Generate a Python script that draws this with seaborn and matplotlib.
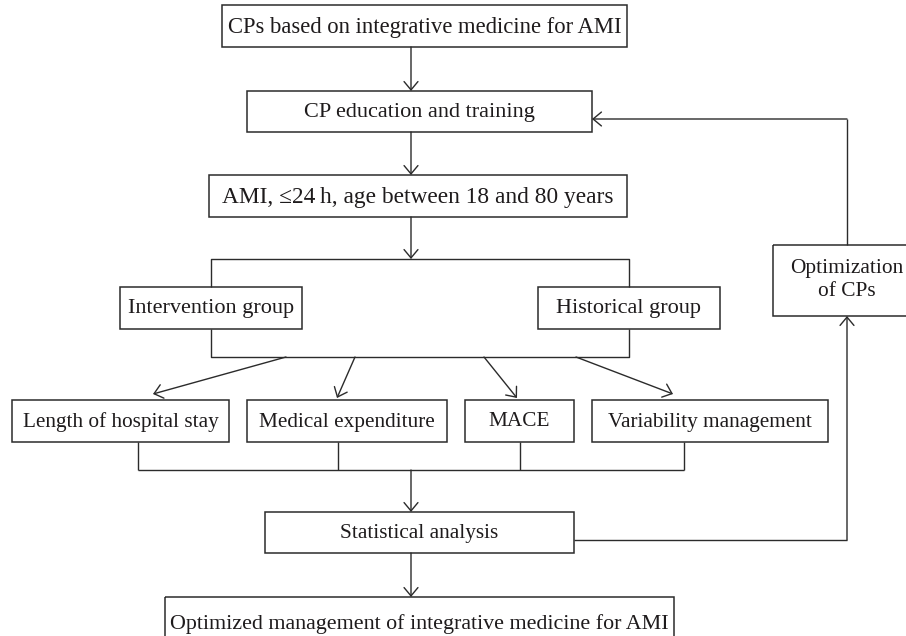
"""
Flow chart: clinical pathways (CPs) of integrative medicine for AMI.
"""

import matplotlib
matplotlib.use("Agg")
import matplotlib.pyplot as plt
import seaborn as sns

# ---- chart text -------------------------------------------------------------
main_steps = [
    "CPs based on integrative medicine for AMI",
    "CP education and training",
    "AMI, \u226424\u2009h, age between 18 and 80 years",
    "Statistical analysis",
    "Optimized management of integrative medicine for AMI",
]
groups = ["Intervention group", "Historical group"]
outcomes = ["Length of hospital stay", "Medical expenditure", "MACE", "Variability management"]
feedback = ["Optimization", "of CPs"]

# ---- layout (pixel coordinates, y downwards) --------------------------------
# box: (x0, x1, y0, y1)
step_boxes = [(222, 627, 5, 47), (247, 592, 91, 132), (209, 627, 175, 217),
              (265, 574, 512, 553), (165, 674, 597, 650)]
step_sizes = [16.3, 16, 16.8, 15.3, 15.8]
group_boxes = [(120, 302, 287, 329), (538, 720, 287, 329)]
outcome_boxes = [(12, 229, 400, 442), (247, 447, 400, 442),
                 (465, 574, 400, 442), (592, 828, 400, 442)]
feedback_box = (773, 922, 245, 316)

LINE = "#2b2b2b"
TEXT = "#1e1b1c"
FS = 16
W, H = 906, 636

sns.set_theme(style="white")
plt.rcParams["font.family"] = ["Liberation Serif", "DejaVu Serif"]

fig = plt.figure(figsize=(W / 100, H / 100), dpi=100)
ax = fig.add_axes([0, 0, 1, 1])
ax.set_xlim(0, W)
ax.set_ylim(H, 0)
ax.axis("off")


def label(x, y, s, size=FS):
    ax.text(x, y, s, fontsize=size, ha="center", va="center", color=TEXT)


def box(b, s, size=FS):
    x0, x1, y0, y1 = b
    ax.add_patch(plt.Rectangle((x0, y0), x1 - x0, y1 - y0, fill=False,
                               ec=LINE, lw=1.1))
    label((x0 + x1) / 2, (y0 + y1) / 2 + 1, s, size)


def line(*pts):
    xs, ys = zip(*pts)
    ax.plot(xs, ys, color=LINE, lw=1.0, solid_capstyle="butt")


def arrow(start, end):
    ax.annotate("", xy=end, xytext=start,
                arrowprops=dict(arrowstyle="->,head_length=0.6,head_width=0.5",
                                mutation_scale=10, color=LINE, lw=1.0,
                                shrinkA=0, shrinkB=0))


for b, s, size in zip(step_boxes, main_steps, step_sizes):
    box(b, s, size)
for b, s in zip(group_boxes, groups):
    box(b, s)
for b, s in zip(outcome_boxes, outcomes):
    box(b, s, 15.3)

# feedback box (runs off the right edge)
fx0, fx1, fy0, fy1 = feedback_box
ax.add_patch(plt.Rectangle((fx0, fy0), fx1 - fx0, fy1 - fy0, fill=False, ec=LINE, lw=1.1))
label(847, 268, feedback[0], 15.4)
label(847, 292, feedback[1], 15.4)

# main vertical flow
arrow((411, 47), (411, 91))
arrow((411, 132), (411, 175))
arrow((411, 217), (411, 259))

# group bracket
line((211, 287), (211, 259), (629, 259), (629, 287))
line((211, 329), (211, 357), (629, 357), (629, 329))

# fan out to outcomes
for start, end in [((286, 357), (153, 394)), ((355, 357), (337, 398)),
                   ((484, 357), (517, 398)), ((576, 357), (673, 394))]:
    arrow(start, end)

# collect outcomes
for x in (138, 338, 520, 684):
    line((x, 442), (x, 470))
line((138, 470), (684, 470))
arrow((411, 470), (411, 512))
arrow((411, 553), (411, 597))

# feedback loop
line((574, 540), (847, 540))
arrow((847, 540), (847, 316))
line((847, 245), (847, 119))
arrow((847, 119), (592, 119))

fig.savefig("out.png", dpi=100, facecolor="white")
plt.close(fig)
